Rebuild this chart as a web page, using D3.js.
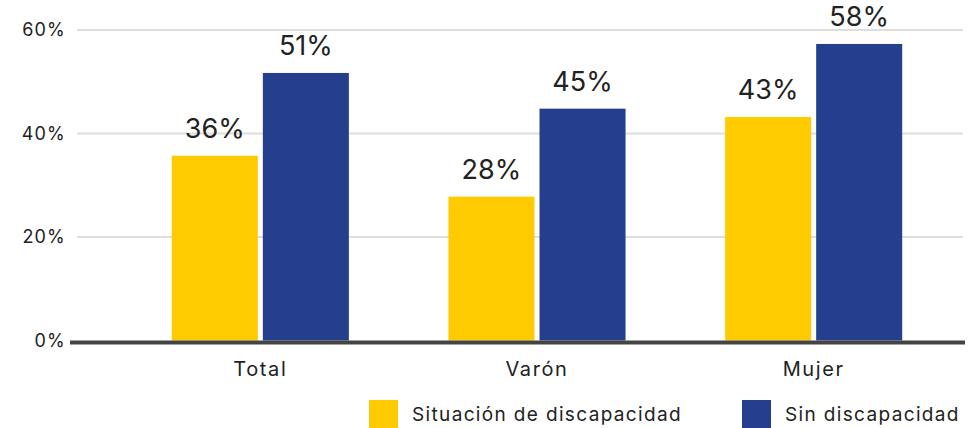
<!DOCTYPE html>
<html>
<head>
<meta charset="utf-8">
<script src="https://cdn.jsdelivr.net/npm/d3@7"></script>
<style>
  body { margin: 0; background: #fff; }
  text { font-family: Inter, "Open Sans", sans-serif; fill: #222; }
</style>
</head>
<body>
<svg id="chart" width="978" height="428"></svg>
<script>
const categories = ["Total", "Varón", "Mujer"];
const seriesNames = ["Situación de discapacidad", "Sin discapacidad"];
const conDisc = [35.7, 27.8, 43.2];
const sinDisc = [51.7, 44.8, 57.3];
const conLabels = ["36%", "28%", "43%"];
const sinLabels = ["51%", "45%", "58%"];
const yTicks = [0, 20, 40, 60];

const colors = ["#FFCB00", "#253F8E"];

const svg = d3.select("#chart");

const y = d3.scaleLinear().domain([0, 60]).range([340.5, 30]);
const x = d3.scaleBand().domain(categories).range([122, 952])
    .paddingInner(0.36).paddingOuter(0.18);
const xs = d3.scaleBand().domain(seriesNames).range([0, x.bandwidth()])
    .paddingInner(0.055);

// grid
svg.append("g")
    .selectAll("line")
    .data(yTicks.filter(d => d > 0))
    .join("line")
    .attr("x1", 77).attr("x2", 963)
    .attr("y1", d => y(d)).attr("y2", d => y(d))
    .attr("stroke", "#dedede")
    .attr("stroke-width", 2);

// y labels
svg.append("g")
    .selectAll("text")
    .data(yTicks)
    .join("text")
    .attr("x", 66)
    .attr("y", d => y(d))
    .attr("dy", "0.35em")
    .attr("text-anchor", "end")
    .attr("font-size", 18)
    .attr("letter-spacing", 1.2)
    .text(d => d + "%");

const rows = categories.map((c, i) => ({
    cat: c,
    vals: [
        { s: seriesNames[0], v: conDisc[i], label: conLabels[i] },
        { s: seriesNames[1], v: sinDisc[i], label: sinLabels[i] }
    ]
}));

const groups = svg.append("g")
    .selectAll("g")
    .data(rows)
    .join("g")
    .attr("transform", d => `translate(${x(d.cat)},0)`);

groups.selectAll("rect")
    .data(d => d.vals)
    .join("rect")
    .attr("x", d => xs(d.s))
    .attr("y", d => y(d.v))
    .attr("width", xs.bandwidth())
    .attr("height", d => y(0) - y(d.v))
    .attr("fill", (d, i) => colors[i]);

groups.selectAll("text.val")
    .data(d => d.vals)
    .join("text")
    .attr("class", "val")
    .attr("x", d => xs(d.s) + xs.bandwidth() / 2)
    .attr("y", d => y(d.v) - 18)
    .attr("text-anchor", "middle")
    .attr("font-size", 27)
    .text(d => d.label);

// baseline
svg.append("line")
    .attr("x1", 70).attr("x2", 965)
    .attr("y1", y(0) + 2).attr("y2", y(0) + 2)
    .attr("stroke", "#444")
    .attr("stroke-width", 4);

// x labels
svg.append("g")
    .selectAll("text")
    .data(categories)
    .join("text")
    .attr("x", d => x(d) + x.bandwidth() / 2)
    .attr("y", 376)
    .attr("text-anchor", "middle")
    .attr("font-size", 20)
    .attr("letter-spacing", 1.6)
    .text(d => d);

// legend
const legend = svg.append("g")
    .selectAll("g")
    .data(seriesNames)
    .join("g")
    .attr("transform", (d, i) => `translate(${[369, 742][i]},400)`);

legend.append("rect")
    .attr("width", 29).attr("height", 28)
    .attr("fill", (d, i) => colors[i]);

legend.append("text")
    .attr("x", 43)
    .attr("y", 21)
    .attr("font-size", 19)
    .attr("letter-spacing", 1.35)
    .text(d => d);
</script>
</body>
</html>
